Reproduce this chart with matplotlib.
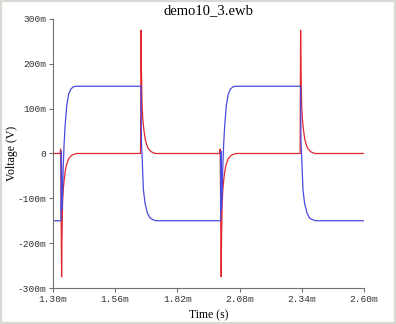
import matplotlib
matplotlib.use("Agg")
import matplotlib.pyplot as plt
from matplotlib.patches import Rectangle
import numpy as np

# square-wave edges (ms)
rise_edges = [1.334, 2.001]   # blue goes up, red spikes down
fall_edges = [1.668, 2.335]   # blue goes down, red spikes up
t_start, t_end = 1.30, 2.60

# shape around each edge: offsets in microseconds, values in mV
rise_dt_blue = [-0.5, 1, 3.3, 5.9, 8.4, 12.5, 16.7, 23.8, 31.4, 41, 52, 66]
rise_blue = [-150, 5, -125, -90, -37, 22, 62, 108, 132, 144, 149, 150]
rise_dt_red = [-4, -2, 2, 3.5, 6, 9, 12.5, 16.7, 21, 31, 44, 63]
rise_red = [0, 10, -275, -190, -110, -80, -60, -42, -28, -12, -4, 0]

fall_dt_blue = [-2, 0, 1.5, 5.4, 10, 16.7, 26.8, 37.6, 51.8, 63]
fall_blue = [150, 150, 30, -20, -81, -111, -133, -144, -148, -150]
fall_dt_red = [-2, 0, 1.5, 4.2, 7, 10.5, 14.6, 18.8, 29, 42, 59]
fall_red = [0, 275, 190, 110, 80, 60, 42, 28, 12, 4, 0]

xticks = [1.30, 1.56, 1.82, 2.08, 2.34, 2.60]
xtick_labels = ["1.30m", "1.56m", "1.82m", "2.08m", "2.34m", "2.60m"]
yticks = [300, 200, 100, 0, -100, -200, -300]
ytick_labels = ["300m", "200m", "100m", "0", "-100m", "-200m", "-300m"]


def build(first, rise_dt, rise_v, fall_dt, fall_v, last):
    t, v = [t_start], [first]
    edges = sorted([(e, "r") for e in rise_edges] + [(e, "f") for e in fall_edges])
    for e, kind in edges:
        dt, vals = (rise_dt, rise_v) if kind == "r" else (fall_dt, fall_v)
        t += [e + d / 1000.0 for d in dt]
        v += list(vals)
    t.append(t_end)
    v.append(last)
    return t, v


tb, vb = build(-150, rise_dt_blue, rise_blue, fall_dt_blue, fall_blue, -150)
tr, vr = build(0, rise_dt_red, rise_red, fall_dt_red, fall_red, 0)

fig = plt.figure(figsize=(3.96, 3.24), dpi=100)
ax = fig.add_axes([0.1338, 0.1111, 0.7854, 0.8303])

ax.plot(tr, vr, color="#e3262e", lw=0.9)
ax.plot(tb, vb, color="#4a4ae0", lw=0.9)

ax.set_xlim(t_start, t_end)
ax.set_ylim(-300, 300)
ax.set_xticks(xticks)
ax.set_xticklabels(xtick_labels)
ax.set_yticks(yticks)
ax.set_yticklabels(ytick_labels)

for s in ["top", "right"]:
    ax.spines[s].set_visible(False)
for s in ["left", "bottom"]:
    ax.spines[s].set_color("#707070")
ax.tick_params(direction="out", length=3, width=0.8, color="#707070",
               labelsize=6.8, pad=2)
for lab in ax.get_xticklabels() + ax.get_yticklabels():
    lab.set_family("Liberation Mono")
    lab.set_color("#303030")

fig.text(0.5265, 0.966, "demo10_3.ewb", family="Liberation Serif",
         fontsize=10.5, ha="center", va="center")
fig.text(0.5265, 0.028, "Time (s)", family="Liberation Serif",
         fontsize=8.5, ha="center", va="center")
fig.text(0.03, 0.525, "Voltage (V)", family="Liberation Serif",
         fontsize=8.5, ha="center", va="center", rotation=90)

# light window frame around the picture
fig.patches.append(Rectangle((0, 0), 1, 1, transform=fig.transFigure,
                             fill=False, edgecolor="#d6dad2", lw=3))

fig.savefig("out.png", dpi=100)
